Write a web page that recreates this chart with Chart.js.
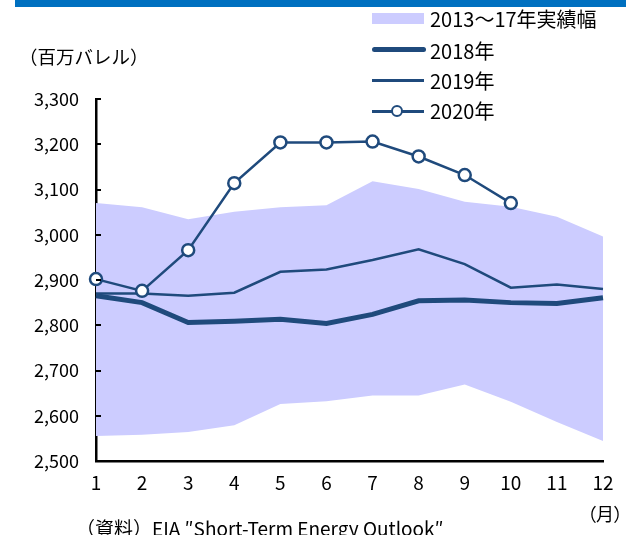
<!DOCTYPE html>
<html>
<head>
<meta charset="utf-8">
<script src="https://cdn.jsdelivr.net/npm/chart.js@4"></script>
<style>
  body { margin: 0; background: #fff; font-family: "Noto Sans CJK JP", sans-serif; color: #000; }
  #wrap { position: relative; width: 626px; height: 535px; overflow: hidden; }
  .abs { position: absolute; white-space: nowrap; line-height: 1; }
  .lg { font-size: 20px; left: 430px; }
</style>
</head>
<body>
<div id="wrap">
  <canvas id="chart" width="626" height="535"></canvas>
  <div class="abs" style="left:19px;top:47px;font-size:18.5px">（百万バレル）</div>
  <div class="abs" style="left:15px;top:0;width:611px;height:7px;background:#0070c0"></div>

  <!-- legend -->
  <div class="abs" style="left:372px;top:13px;width:52px;height:11px;background:#ccccff"></div>
  <div class="abs lg" style="top:9px">2013～17年実績幅</div>
  <div class="abs" style="left:372px;top:46.5px;width:54px;height:5px;border-radius:2.5px;background:#1f4a7c"></div>
  <div class="abs lg" style="top:41px">2018年</div>
  <div class="abs" style="left:372px;top:79px;width:52px;height:2.5px;background:#1f4a7c"></div>
  <div class="abs lg" style="top:71px">2019年</div>
  <div class="abs" style="left:372px;top:110px;width:52px;height:2.5px;background:#1f4a7c"></div>
  <div class="abs" style="left:391px;top:105px;width:8px;height:8px;border:2.5px solid #1f4a7c;border-radius:50%;background:#fff"></div>
  <div class="abs lg" style="top:101px">2020年</div>

  <div class="abs" style="left:76px;top:518px;font-size:19px">（資料）EIA ″Short-Term Energy Outlook″</div>
  <div class="abs" style="left:587px;top:504px;font-size:18px;font-feature-settings:'palt'">（月）</div>
</div>
<script>
// months on the x axis
const months = ["1", "2", "3", "4", "5", "6", "7", "8", "9", "10", "11", "12"];

// 2013-17 range (low / high)
const bandLow = [2555, 2558, 2564, 2579, 2626, 2632, 2645, 2645, 2669, 2631, 2586, 2544];
const bandHigh = [3070, 3061, 3034, 3051, 3061, 3065, 3118, 3101, 3073, 3062, 3040, 2996];

// yearly series
const y2018 = [2865, 2850, 2806, 2809, 2813, 2804, 2824, 2854, 2856, 2850, 2848, 2861];
const y2019 = [2870, 2870, 2865, 2872, 2918, 2923, 2944, 2968, 2935, 2883, 2890, 2880];
const y2020 = [2902, 2876, 2966, 3114, 3204, 3204, 3206, 3173, 3132, 3070];

const yMin = 2500, yMax = 3300, yStep = 100;

const lineColor = "#1f4a7c";
const bandColor = "#ccccff";
const fontFamily = "'Noto Sans CJK JP', sans-serif";

// small inward tick marks on the y axis
const innerTicks = {
  id: "innerTicks",
  afterDraw(chart) {
    const ctx = chart.ctx;
    const ys = chart.scales.y;
    const left = chart.chartArea.left;
    ctx.save();
    ctx.strokeStyle = "#000";
    ctx.lineWidth = 2;
    ys.ticks.forEach(t => {
      if (t.value === yMin) return;
      const y = Math.round(ys.getPixelForValue(t.value));
      ctx.beginPath();
      ctx.moveTo(left, y);
      ctx.lineTo(left + 5, y);
      ctx.stroke();
    });
    ctx.restore();
  }
};

new Chart(document.getElementById("chart"), {
  type: "line",
  data: {
    labels: months,
    datasets: [
      {
        label: "2020年",
        data: y2020,
        borderColor: lineColor,
        borderWidth: 2.5,
        pointRadius: 6,
        pointBorderWidth: 2.5,
        pointBackgroundColor: "#fff",
        pointBorderColor: lineColor,
        tension: 0,
        clip: false
      },
      {
        label: "2019年",
        data: y2019,
        borderColor: lineColor,
        borderWidth: 2.5,
        pointRadius: 0,
        tension: 0
      },
      {
        label: "2018年",
        data: y2018,
        borderColor: lineColor,
        borderWidth: 5,
        pointRadius: 0,
        tension: 0
      },
      {
        label: "low",
        data: bandLow,
        borderWidth: 0,
        borderColor: "rgba(0,0,0,0)",
        pointRadius: 0,
        fill: false
      },
      {
        label: "2013～17年実績幅",
        data: bandHigh,
        borderWidth: 0,
        borderColor: "rgba(0,0,0,0)",
        backgroundColor: bandColor,
        pointRadius: 0,
        fill: 3
      }
    ]
  },
  options: {
    responsive: false,
    animation: false,
    events: [],
    layout: { padding: { top: 99, right: 23, left: 0, bottom: 0 } },
    plugins: {
      legend: { display: false },
      tooltip: { enabled: false }
    },
    scales: {
      x: {
        offset: false,
        afterFit(scale) { scale.height = 74; },
        grid: { drawOnChartArea: false, drawTicks: false },
        border: { display: true, color: "#000", width: 2.5 },
        ticks: {
          padding: 10,
          color: "#000",
          maxRotation: 0,
          autoSkip: false,
          font: { family: fontFamily, size: 19 }
        }
      },
      y: {
        min: yMin,
        max: yMax,
        afterFit(scale) { scale.width = 96; },
        grid: { drawOnChartArea: false, drawTicks: false },
        border: { display: true, color: "#000", width: 2.5 },
        ticks: {
          stepSize: yStep,
          padding: 17,
          color: "#000",
          font: { family: fontFamily, size: 18 },
          callback: v => v.toLocaleString("en-US")
        }
      }
    }
  },
  plugins: [innerTicks]
});
</script>
</body>
</html>
